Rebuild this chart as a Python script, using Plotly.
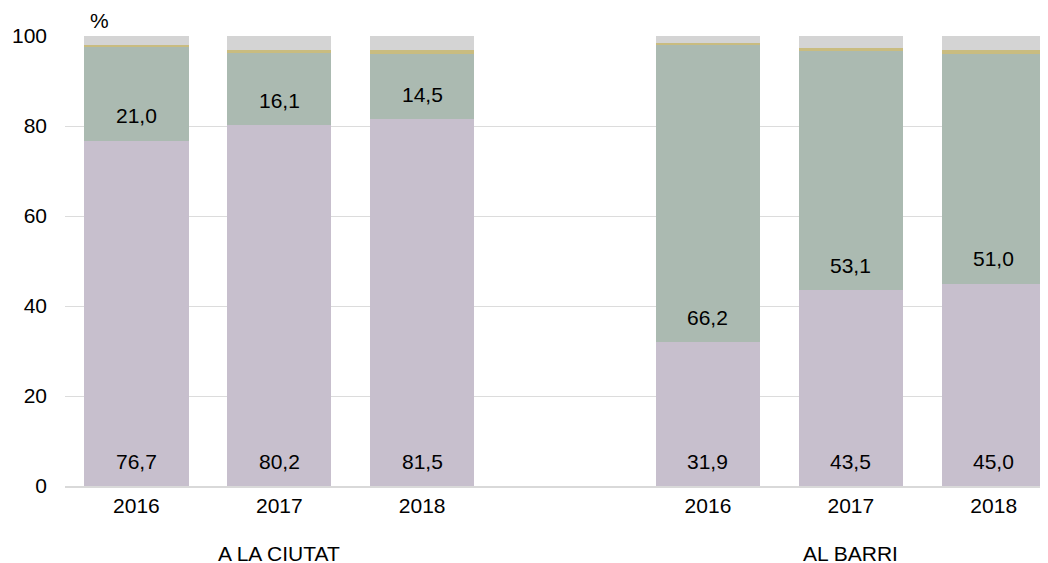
import plotly.graph_objects as go

positions = [0, 1, 2, 4, 5, 6]
years = ["2016", "2017", "2018", "2016", "2017", "2018"]
groups = ["A LA CIUTAT", "AL BARRI"]
group_centers = [1, 5]

purple = [76.7, 80.2, 81.5, 31.9, 43.5, 45.0]
green = [21.0, 16.1, 14.5, 66.2, 53.1, 51.0]
yellow = [0.4, 0.6, 0.9, 0.3, 0.7, 0.8]
gray = [1.9, 3.1, 3.1, 1.6, 2.7, 3.2]

fmt = lambda v: f"{v:.1f}".replace(".", ",")

FS = 21
font = dict(family="Liberation Sans, Arial, sans-serif", size=FS, color="#000000")

fig = go.Figure()
series = [
    (purple, "#c7bfcd"),
    (green, "#abbab1"),
    (yellow, "#c9bc80"),
    (gray, "#d4d4d4"),
]
for vals, col in series:
    fig.add_trace(go.Bar(
        x=positions, y=vals, width=0.73,
        marker=dict(color=col, line=dict(width=0)),
        hoverinfo="skip",
    ))

annotations = []
# labels placed just above the base of each labelled segment
for p, pv, gv in zip(positions, purple, green):
    annotations.append(dict(x=p, y=0, xref="x", yref="y", text=fmt(pv), showarrow=False,
                            font=font, yanchor="middle", yshift=25))
    annotations.append(dict(x=p, y=pv, xref="x", yref="y", text=fmt(gv), showarrow=False,
                            font=font, yanchor="middle", yshift=25))

for gc, g in zip(group_centers, groups):
    annotations.append(dict(x=gc, y=-0.151, xref="x", yref="paper", text=g, showarrow=False,
                            font=font, xanchor="center", yanchor="middle"))
annotations.append(dict(x=0.0356, y=1.035, xref="paper", yref="paper", text="%",
                        showarrow=False, font=font, xanchor="center", yanchor="middle"))

fig.update_layout(
    barmode="stack",
    width=1048, height=563,
    margin=dict(l=57, r=8, t=28, b=85, autoexpand=False),
    paper_bgcolor="white", plot_bgcolor="white",
    showlegend=False,
    font=font,
    annotations=annotations,
    xaxis=dict(range=[-0.5, 6.38], tickvals=positions, ticktext=years,
               showgrid=False, zeroline=False, ticks="", showline=True,
               linecolor="#d9d9d9", linewidth=1.5, tickfont=font, automargin=False),
    yaxis=dict(range=[0, 100], tickvals=[0, 20, 40, 60, 80, 100],
               showgrid=True, gridcolor="#dcdcdc", gridwidth=1.2,
               zeroline=False, ticks="", ticklabelstandoff=17, tickfont=font,
               automargin=False),
)
fig.write_html("out.html")
